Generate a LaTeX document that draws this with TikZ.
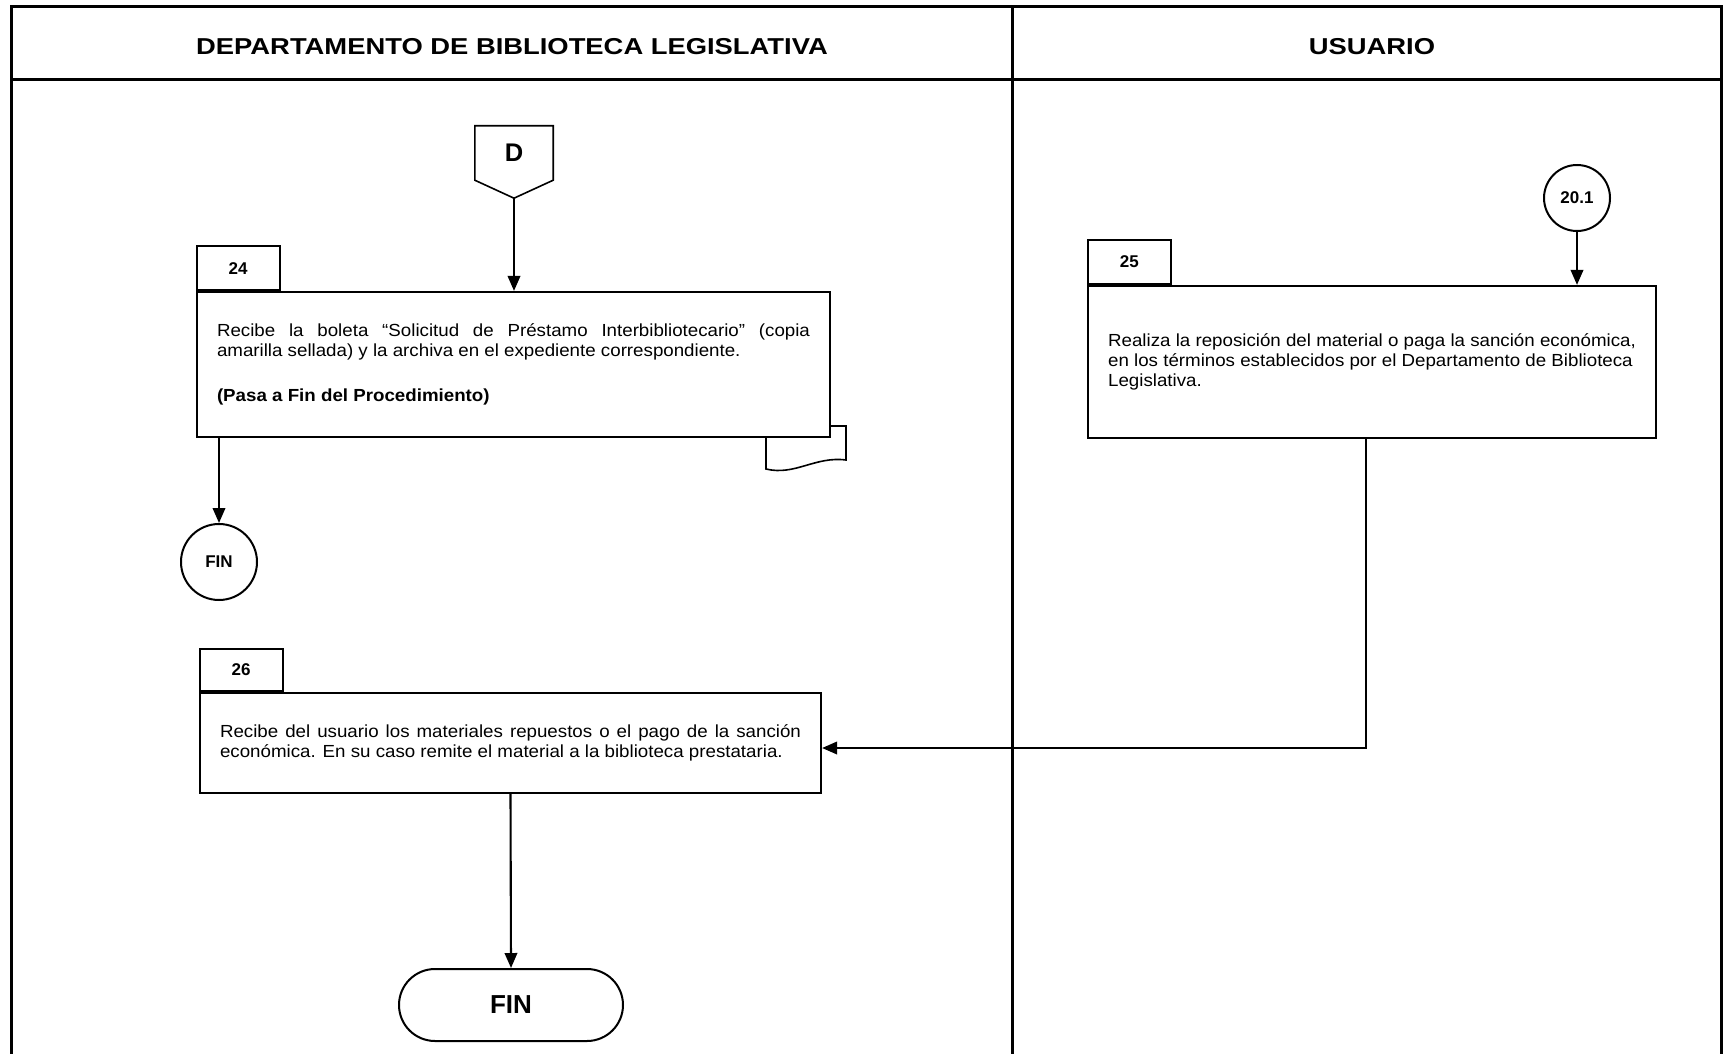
\documentclass[tikz,border=0pt]{standalone}
\usepackage{fontspec}
\setmainfont{Liberation Sans}
\newfontfamily\wideface[FakeStretch=1.07]{Liberation Sans}
\newfontfamily\headface[FakeStretch=1.19]{Liberation Sans}
\usetikzlibrary{arrows.meta, positioning, calc}

\begin{document}
\begin{tikzpicture}[x=1pt, y=-1pt,
    lane/.style={line width=3pt},
    head/.style={font=\headface\bfseries\fontsize{23}{27}\selectfont},
    proc/.style={draw, line width=2.2pt, fill=white, inner xsep=20pt, inner ysep=0pt,
        font=\wideface\fontsize{17.5}{19.8}\selectfont},
    tab/.style={draw, line width=1.6pt, fill=white, minimum width=83pt, minimum height=44pt,
        inner sep=0pt, font=\bfseries\fontsize{17}{20}\selectfont},
    conn/.style={draw, circle, line width=2pt, inner sep=0pt, font=\bfseries\fontsize{17}{20}\selectfont},
    flow/.style={line width=2.1pt, -{Triangle[length=15pt,width=12.5pt]}}]
    \useasboundingbox (0,0) rectangle (1723,1054);

    \draw[lane] (11,1054) -- (11,7) -- (1721,7) -- (1721,1054);
    \draw[lane] (11,80) -- (1721,80);
    \draw[lane] (1012,7) -- (1012,1054);
    \node[head] (hdept) at (512,47) {DEPARTAMENTO DE BIBLIOTECA LEGISLATIVA};
    \node[head] (husr) at (1372,47) {USUARIO};

    \node[font=\bfseries\fontsize{25.5}{30}\selectfont, minimum width=78pt, minimum height=54pt,
        inner sep=0pt] (doff) at (514,153) {D};
    \coordinate (dtip) at ($(doff.south)+(0,18)$);
    \draw[line width=1.6pt] (doff.south west) -- (doff.north west) -- (doff.north east)
        -- (doff.south east) -- (dtip) -- cycle;

    \draw[line width=1.6pt, fill=white] (766,426) -- (766,469)
        .. controls (795,476) and (815,456) .. (846,460) -- (846,426) -- cycle;

    \node[proc, text width=593pt, minimum height=145pt, align=justify] (b24) at (513.5,364.5)
        {Recibe la boleta “Solicitud de Préstamo Interbibliotecario” (copia\linebreak
         amarilla sellada) y la archiva en el expediente correspondiente.\par\vspace{25pt}
         \textbf{(Pasa a Fin del Procedimiento)}};
    \node[tab, above right=0pt of b24.north west] (t24) {24};

    \node[conn, minimum size=76pt] (fin1) at (219,562) {FIN};

    \node[proc, minimum width=566pt, minimum height=152pt, align=left] (b25) at (1372,362)
        {Realiza la reposición del material o paga la sanción económica,\\
         en los términos establecidos por el Departamento de Biblioteca\\
         Legislativa.};
    \node[tab, above right=0pt of b25.north west] (t25) {25};

    \node[conn, minimum size=66pt] (c201) at (1577,198) {20.1};

    \node[proc, text width=581pt, minimum height=100pt, align=justify] (b26) at (510.5,743)
        {Recibe del usuario los materiales repuestos o el pago de la sanción\linebreak
         económica. En su caso remite el material a la biblioteca prestataria.};
    \node[tab, minimum height=42pt, above right=0pt of b26.north west] (t26) {26};

    \node[draw, line width=2pt, rounded corners=36pt, minimum width=224pt, minimum height=72pt,
        font=\bfseries\fontsize{26}{30}\selectfont] (fin2) at (511,1005) {FIN};

    \draw[flow] (dtip) -- (dtip |- b24.north);
    \draw[flow] (fin1.north |- b24.south) -- (fin1.north);
    \draw[flow] (c201.south) -- (c201.south |- b25.north);
    \coordinate (jn) at ($(b25.south)+(-6,0)$);
    \draw[flow] (jn) |- ($(b26.east)+(0,5)$);
    \draw[flow] (b26.south) -- (fin2.north);
\end{tikzpicture}
\end{document}
